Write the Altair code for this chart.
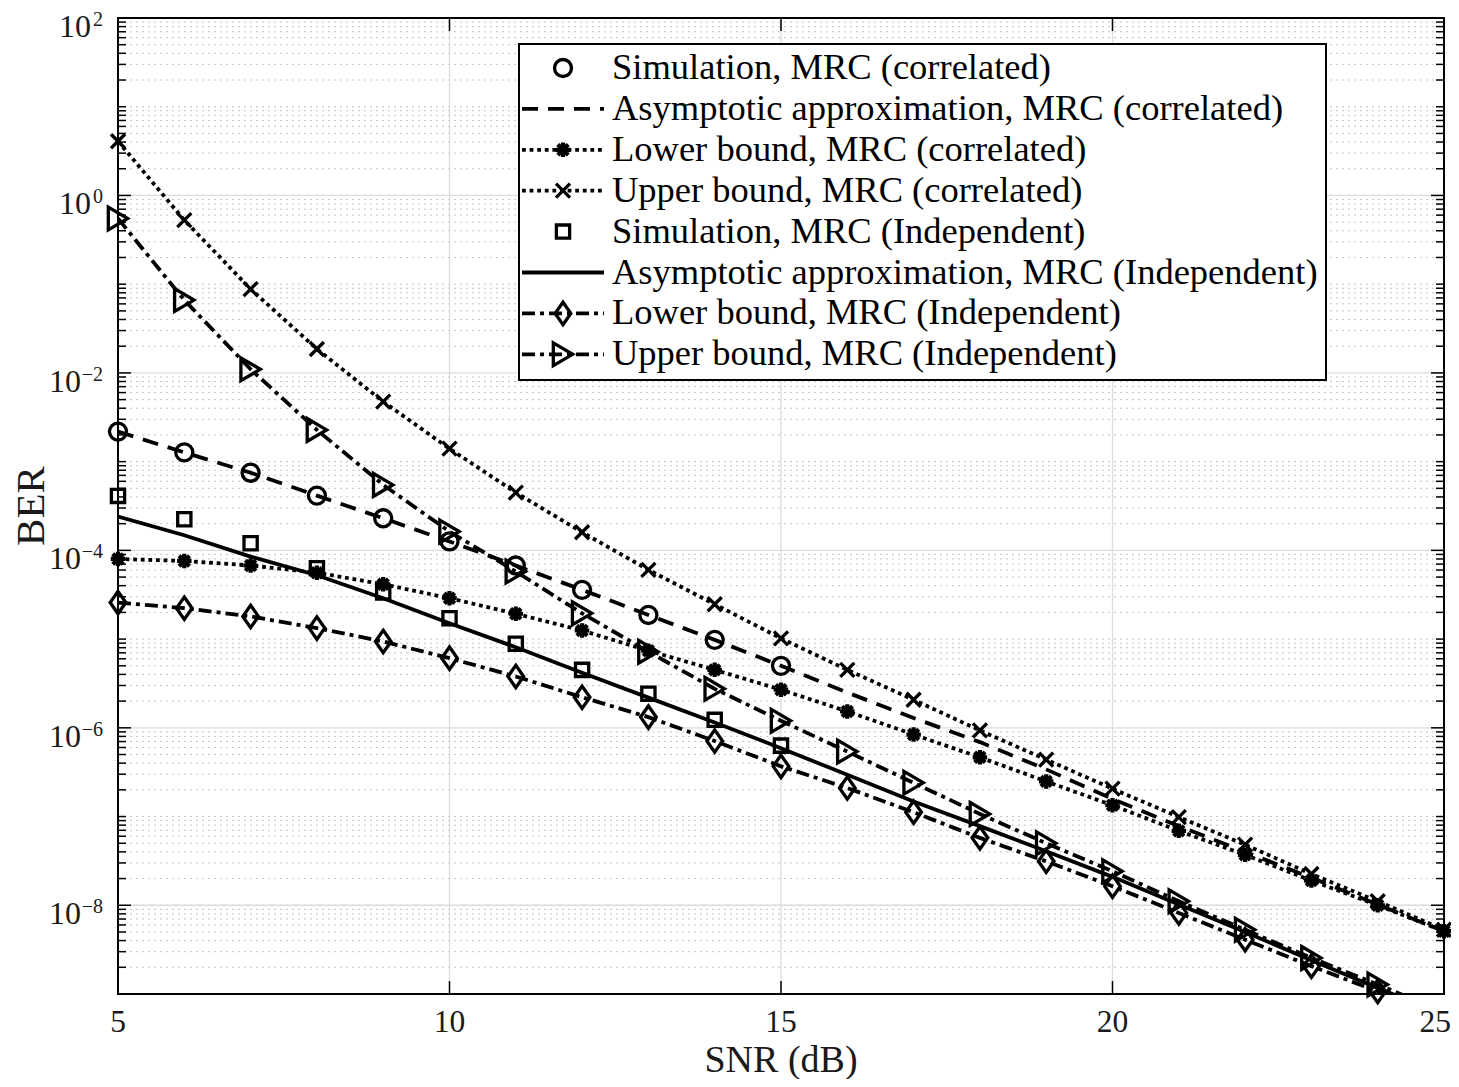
import altair as alt
import pandas as pd

# ---------------- data ----------------
snr = list(range(5, 26))          # SNR (dB) for the analytical curves
snr_sim = list(range(5, 16))      # SNR (dB) for the simulation points

labels = [
    "Simulation, MRC (correlated)",
    "Asymptotic approximation, MRC (correlated)",
    "Lower bound, MRC (correlated)",
    "Upper bound, MRC (correlated)",
    "Simulation, MRC (Independent)",
    "Asymptotic approximation, MRC (Independent)",
    "Lower bound, MRC (Independent)",
    "Upper bound, MRC (Independent)",
]

ber_sim_corr = [2.18e-3, 1.27e-3, 7.5e-4, 4.14e-4, 2.30e-4, 1.26e-4, 6.75e-5, 3.59e-5, 1.87e-5, 9.8e-6, 5.0e-6]
ber_asym_corr = [2.18e-3, 1.27e-3, 7.5e-4, 4.14e-4, 2.30e-4, 1.26e-4, 6.75e-5, 3.59e-5, 1.87e-5, 9.8e-6, 5.0e-6,
                 2.5e-6, 1.29e-6, 6.9e-7, 3.4e-7, 1.58e-7, 7.8e-8, 4.0e-8, 2.04e-8, 1.02e-8, 5.1e-9]
ber_lower_corr = [8.0e-5, 7.6e-5, 6.75e-5, 5.6e-5, 4.15e-5, 2.89e-5, 1.93e-5, 1.25e-5, 7.4e-6, 4.5e-6, 2.69e-6,
                  1.53e-6, 8.4e-7, 4.65e-7, 2.49e-7, 1.34e-7, 6.9e-8, 3.7e-8, 1.9e-8, 1.0e-8, 5.1e-9]
ber_upper_corr = [4.08, 0.527, 0.0881, 0.0186, 4.74e-3, 1.40e-3, 4.48e-4, 1.60e-4, 6.03e-5, 2.47e-5, 1.02e-5,
                  4.5e-6, 2.07e-6, 9.35e-7, 4.38e-7, 2.06e-7, 9.86e-8, 4.82e-8, 2.25e-8, 1.11e-8, 5.3e-9]
ber_sim_ind = [4.11e-4, 2.24e-4, 1.20e-4, 6.3e-5, 3.35e-5, 1.72e-5, 8.85e-6, 4.5e-6, 2.42e-6, 1.23e-6, 6.3e-7]
ber_asym_ind = [2.4e-4, 1.48e-4, 8.5e-5, 5.25e-5, 2.88e-5, 1.51e-5, 8.1e-6, 4.17e-6, 2.19e-6, 1.15e-6, 5.9e-7,
                2.95e-7, 1.48e-7, 7.8e-8, 4.07e-8, 2.09e-8, 1.02e-8, 5.0e-9, 2.4e-9, 1.17e-9, 5.8e-10]
ber_lower_ind = [2.58e-5, 2.23e-5, 1.80e-5, 1.33e-5, 9.4e-6, 6.1e-6, 3.79e-6, 2.21e-6, 1.32e-6, 7.1e-7, 3.68e-7,
                 2.10e-7, 1.12e-7, 5.75e-8, 3.13e-8, 1.64e-8, 8.2e-9, 4.1e-9, 2.06e-9, 1.07e-9, 5.4e-10]
ber_upper_ind = [0.55, 0.0662, 0.011, 2.28e-3, 5.47e-4, 1.63e-4, 5.77e-5, 1.95e-5, 7.2e-6, 2.75e-6, 1.2e-6,
                 5.4e-7, 2.4e-7, 1.07e-7, 5.0e-8, 2.42e-8, 1.11e-8, 5.3e-9, 2.55e-9, 1.28e-9, 6.2e-10]

x_ticks = [5, 10, 15, 20, 25]
x_tick_labels = ["5", "10", "15", "20", "25"]
y_ticks = [1e-8, 1e-6, 1e-4, 1e-2, 1e0, 1e2]
y_tick_exponents = ["\u22128", "\u22126", "\u22124", "\u22122", "0", "2"]
y_minor = [m * 10.0 ** k for k in range(-9, 2) for m in range(2, 10)] + [10.0 ** k for k in (-7, -5, -3, -1, 1)]
y_major_grid = [1e-8, 1e-6, 1e-4, 1e-2, 1e0]
x_major_grid = [10, 15, 20]
x_title = "SNR (dB)"
y_title = "BER"

# ---------------- styling ----------------
W, H = 1326, 976
PAD = {"left": 110, "top": 10, "right": 7, "bottom": 85}
FONT = "Liberation Serif"
TXT = "#1a1a1a"
LW = 3.8
MW = 3.3
XPATH = "M-1,-1L1,1M-1,1L1,-1"
ASTER = "M-1,0L1,0M0,-1L0,1M-0.72,-0.72L0.72,0.72M-0.72,0.72L0.72,-0.72"
DIAM = "M0,-1L0.7,0L0,1L-0.7,0Z"
TRI = "M-0.85,-1L0.85,0L-0.85,1Z"
DOT = [3.8, 3.8]
DASHDOT = [13, 5, 4, 5]

series = [
    # (label, x, y, dash, shape, size)
    (labels[0], snr_sim, ber_sim_corr, None, "circle", 290),
    (labels[1], snr, ber_asym_corr, [16, 10], None, None),
    (labels[2], snr, ber_lower_corr, DOT, ASTER, 210),
    (labels[3], snr, ber_upper_corr, DOT, XPATH, 196),
    (labels[4], snr_sim, ber_sim_ind, None, "square", 175),
    (labels[5], snr, ber_asym_ind, "solid", None, None),
    (labels[6], snr, ber_lower_ind, DASHDOT, DIAM, 500),
    (labels[7], snr, ber_upper_ind, DASHDOT, TRI, 520),
]

yscale = alt.Scale(type="log", domain=[1e-9, 1e2], nice=False)
xscale = alt.Scale(domain=[5, 25], nice=False, zero=False)

layers = []

# grid
layers.append(alt.Chart(pd.DataFrame({"v": y_minor})).mark_rule(
    color="#c4c4c4", strokeWidth=1, strokeDash=[2, 4]).encode(
    y=alt.Y("v:Q", scale=yscale, axis=None), x=alt.value(0), x2=alt.value(W)))
layers.append(alt.Chart(pd.DataFrame({"v": y_major_grid})).mark_rule(color="#dcdcdc", strokeWidth=1.3).encode(
    y=alt.Y("v:Q", scale=yscale, axis=None), x=alt.value(0), x2=alt.value(W)))
layers.append(alt.Chart(pd.DataFrame({"v": x_major_grid})).mark_rule(color="#dcdcdc", strokeWidth=1.3).encode(
    x=alt.X("v:Q", scale=xscale, axis=None), y=alt.value(0), y2=alt.value(H)))

# curves
for lab, xs, ys, dash, shape, size in series:
    df = pd.DataFrame({"snr": xs, "ber": ys})
    if dash is not None:
        kw = dict(clip=True, color="black", strokeWidth=LW, strokeCap="butt")
        if dash != "solid":
            kw["strokeDash"] = dash
        layers.append(alt.Chart(df).mark_line(**kw).encode(
            x=alt.X("snr:Q", scale=xscale, axis=None),
            y=alt.Y("ber:Q", scale=yscale, axis=None)))
for lab, xs, ys, dash, shape, size in series:
    df = pd.DataFrame({"snr": xs, "ber": ys})
    if shape is not None:
        sw = 4.2 if shape == ASTER else MW
        layers.append(alt.Chart(df).transform_filter("datum.ber >= 1e-9").mark_point(
            shape=shape, size=size, filled=False, color="black", strokeWidth=sw, opacity=1).encode(
            x=alt.X("snr:Q", scale=xscale, axis=None),
            y=alt.Y("ber:Q", scale=yscale, axis=None)))

# inward ticks (MATLAB style)
maj_df = pd.DataFrame({"v": y_ticks[:-1]})
min_df = pd.DataFrame({"v": y_minor})
xt_df = pd.DataFrame({"v": x_major_grid})
for df, l in ((maj_df, 13), (min_df, 8)):
    layers.append(alt.Chart(df).mark_rule(color="black", strokeWidth=1.5).encode(
        y=alt.Y("v:Q", scale=yscale, axis=None), x=alt.value(0), x2=alt.value(l)))
    layers.append(alt.Chart(df).mark_rule(color="black", strokeWidth=1.5).encode(
        y=alt.Y("v:Q", scale=yscale, axis=None), x=alt.value(W - l), x2=alt.value(W)))
layers.append(alt.Chart(xt_df).mark_rule(color="black", strokeWidth=1.5).encode(
    x=alt.X("v:Q", scale=xscale, axis=None), y=alt.value(H - 13), y2=alt.value(H)))
layers.append(alt.Chart(xt_df).mark_rule(color="black", strokeWidth=1.5).encode(
    x=alt.X("v:Q", scale=xscale, axis=None), y=alt.value(0), y2=alt.value(13)))

# tick labels and axis titles (text through the chart scales)
ytl = pd.DataFrame({"v": y_ticks, "e": y_tick_exponents})
layers.append(alt.Chart(ytl).mark_text(
    align="right", baseline="alphabetic", font=FONT, fontSize=20, color=TXT, dy=8).encode(
    y=alt.Y("v:Q", scale=yscale, axis=None), x=alt.value(-15), text="e:N"))
layers.append(alt.Chart(ytl).transform_calculate(
    lx="length(datum.e) > 1 ? -37 : -27").mark_text(
    align="right", baseline="alphabetic", font=FONT, fontSize=32, color=TXT, dy=19).encode(
    y=alt.Y("v:Q", scale=yscale, axis=None), x=alt.X("lx:Q", scale=None, axis=None),
    text=alt.value("10")))
xtl = pd.DataFrame({"v": x_ticks, "t": x_tick_labels})
layers.append(alt.Chart(xtl).transform_filter("datum.v < 25").mark_text(
    align="center", baseline="alphabetic", font=FONT, fontSize=31.5, color=TXT).encode(
    x=alt.X("v:Q", scale=xscale, axis=None), y=alt.value(H + 38), text="t:N"))
layers.append(alt.Chart(xtl).transform_filter("datum.v == 25").mark_text(
    align="right", baseline="alphabetic", font=FONT, fontSize=31.5, color=TXT, dx=PAD["right"]).encode(
    x=alt.X("v:Q", scale=xscale, axis=None), y=alt.value(H + 38), text="t:N"))
layers.append(alt.Chart(pd.DataFrame({"t": [x_title]})).mark_text(
    align="center", baseline="alphabetic", font=FONT, fontSize=38, color=TXT).encode(
    x=alt.value(W / 2), y=alt.value(H + 78), text="t:N"))
layers.append(alt.Chart(pd.DataFrame({"t": [y_title]})).mark_text(
    align="center", baseline="alphabetic", font=FONT, fontSize=41, color=TXT, angle=270).encode(
    x=alt.value(-74), y=alt.value(H / 2), text="t:N"))

# legend
LX0, LX1, LY0, LY1 = 401, 1208, 26, 362
ROW0, ROWD = 50, 40.9
layers.append(alt.Chart(pd.DataFrame({"a": [0]})).mark_rect(fill="white", stroke="black", strokeWidth=2).encode(
    x=alt.value(LX0), x2=alt.value(LX1), y=alt.value(LY0), y2=alt.value(LY1)))
calc = "%s + %s * datum.row" % (ROW0, ROWD)
for i, (lab, xs, ys, dash, shape, size) in enumerate(series):
    rdf = pd.DataFrame({"row": [i]})
    if dash is not None:
        kw = dict(color="black", strokeWidth=LW, strokeCap="butt")
        if dash != "solid":
            kw["strokeDash"] = dash
        layers.append(alt.Chart(rdf).transform_calculate(ly=calc).mark_rule(**kw).encode(
            x=alt.value(404), x2=alt.value(486), y=alt.Y("ly:Q", scale=None, axis=None)))
    if shape is not None:
        sw = 4.2 if shape == ASTER else MW
        layers.append(alt.Chart(rdf).transform_calculate(ly=calc).mark_point(
            shape=shape, size=size, filled=False, color="black", strokeWidth=sw, opacity=1).encode(
            x=alt.value(445), y=alt.Y("ly:Q", scale=None, axis=None)))
leg_df = pd.DataFrame({"row": list(range(len(labels))), "label": labels})
layers.append(alt.Chart(leg_df).transform_calculate(ly=calc).mark_text(
    align="left", baseline="middle", font=FONT, fontSize=36.5, color="black").encode(
    x=alt.value(494), y=alt.Y("ly:Q", scale=None, axis=None), text="label:N"))

chart = alt.layer(*layers).properties(
    width=W, height=H, background="white",
    autosize=alt.AutoSizeParams(type="none"),
    padding=PAD,
).configure_view(stroke="black", strokeWidth=2)

chart.save("out.html", embed_options={"renderer": "svg", "actions": False})
